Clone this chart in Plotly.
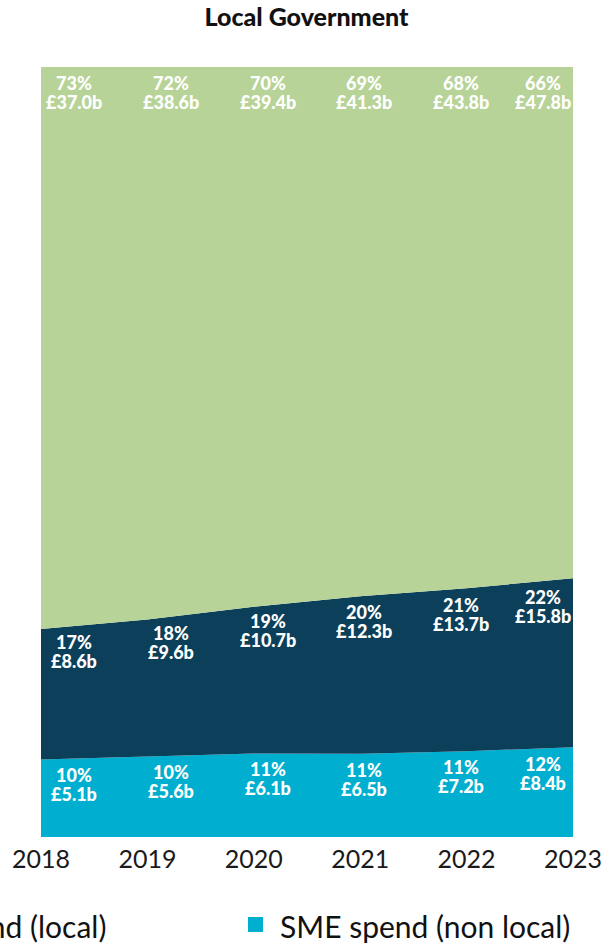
import plotly.graph_objects as go
import numpy as np

years = [2018, 2019, 2020, 2021, 2022, 2023]
sme_nonlocal = [5.1, 5.6, 6.1, 6.5, 7.2, 8.4]
sme_local = [8.6, 9.6, 10.7, 12.3, 13.7, 15.8]
non_sme = [37.0, 38.6, 39.4, 41.3, 43.8, 47.8]
pct_nonlocal = ["10%", "10%", "11%", "11%", "11%", "12%"]
pct_local = ["17%", "18%", "19%", "20%", "21%", "22%"]
pct_non_sme = ["73%", "72%", "70%", "69%", "68%", "66%"]

C_CYAN = "#00AFCF"
C_NAVY = "#0C3F5A"
C_GREEN = "#B7D397"
FONT = "Lato"

fig = go.Figure()
series = [
    ("SME spend (non local)", sme_nonlocal, C_CYAN),
    ("SME spend (local)", sme_local, C_NAVY),
    ("Non SME spend", non_sme, C_GREEN),
]
for name, vals, col in series:
    fig.add_trace(go.Scatter(
        x=years, y=vals, name=name, mode="lines", stackgroup="one",
        groupnorm="percent", line=dict(width=0, color=col), fillcolor=col,
        showlegend=False, hoverinfo="skip"))

# cumulative tops in percent
tot = np.array(sme_nonlocal) + np.array(sme_local) + np.array(non_sme)
top1 = np.array(sme_nonlocal) / tot * 100
top2 = top1 + np.array(sme_local) / tot * 100
top3 = np.full(len(years), 100.0)

PLOT_H = 770.0
PX_PER_YEAR = 532.0 / 5
for i, yr in enumerate(years):
    lx = min(yr + 0.31 - 0.09 * i, years[-1] - 30 / PX_PER_YEAR)
    for tops, pcts, vals in [(top1, pct_nonlocal, sme_nonlocal),
                             (top2, pct_local, sme_local),
                             (top3, pct_non_sme, non_sme)]:
        ty = float(np.interp(lx, years, tops))
        fig.add_annotation(x=lx, y=ty, xref="x", yref="y", text="%s" % pcts[i],
                           showarrow=False, yanchor="top", xanchor="center", yshift=-3,
                           font=dict(family=FONT, size=18, color="white", weight=900))
        fig.add_annotation(x=lx, y=ty, xref="x", yref="y", text="£%.1fb" % vals[i],
                           showarrow=False, yanchor="top", xanchor="center", yshift=-22,
                           font=dict(family=FONT, size=18, color="white", weight=900))

# legend (manual, partially cut off like the reference)
fig.add_annotation(x=(108 - 41) / 532.0, y=-(926 - 837) / PLOT_H, xref="paper", yref="paper",
                   text="SME spend (local)", showarrow=False, xanchor="right", yanchor="middle",
                   font=dict(family=FONT, size=30, color="#111111"))
fig.add_shape(type="rect", xref="paper", yref="paper",
              x0=(248 - 41) / 532.0, x1=(263 - 41) / 532.0,
              y0=-(932 - 837) / PLOT_H, y1=-(917 - 837) / PLOT_H,
              fillcolor=C_CYAN, line=dict(width=0))
fig.add_annotation(x=(278 - 41) / 532.0, y=-(926 - 837) / PLOT_H, xref="paper", yref="paper",
                   text="SME spend (non local)", showarrow=False, xanchor="left", yanchor="middle",
                   font=dict(family=FONT, size=30, color="#111111"))

fig.update_layout(
    width=616, height=943,
    margin=dict(l=41, r=43, t=67, b=106),
    paper_bgcolor="white", plot_bgcolor="white",
    title=dict(text="Local Government", x=(306.5 - 41) / 532.0, xref="paper", xanchor="center",
               y=1 - 17 / 943.0, yanchor="middle",
               font=dict(family=FONT, size=25, color="#111111", weight=900)),
    xaxis=dict(type="linear", range=[2018, 2023], tickvals=years,
               ticktext=[str(y) for y in years], showgrid=False, zeroline=False,
               showline=False, ticks="", tickfont=dict(family=FONT, size=25, color="#1a1a1a"),
               ticklabelstandoff=5),
    yaxis=dict(range=[0, 100], visible=False),
    showlegend=False,
)

fig.write_html("out.html", config={"displayModeBar": False},
               post_script="document.body.style.margin='0';document.body.style.overflow='hidden';")
